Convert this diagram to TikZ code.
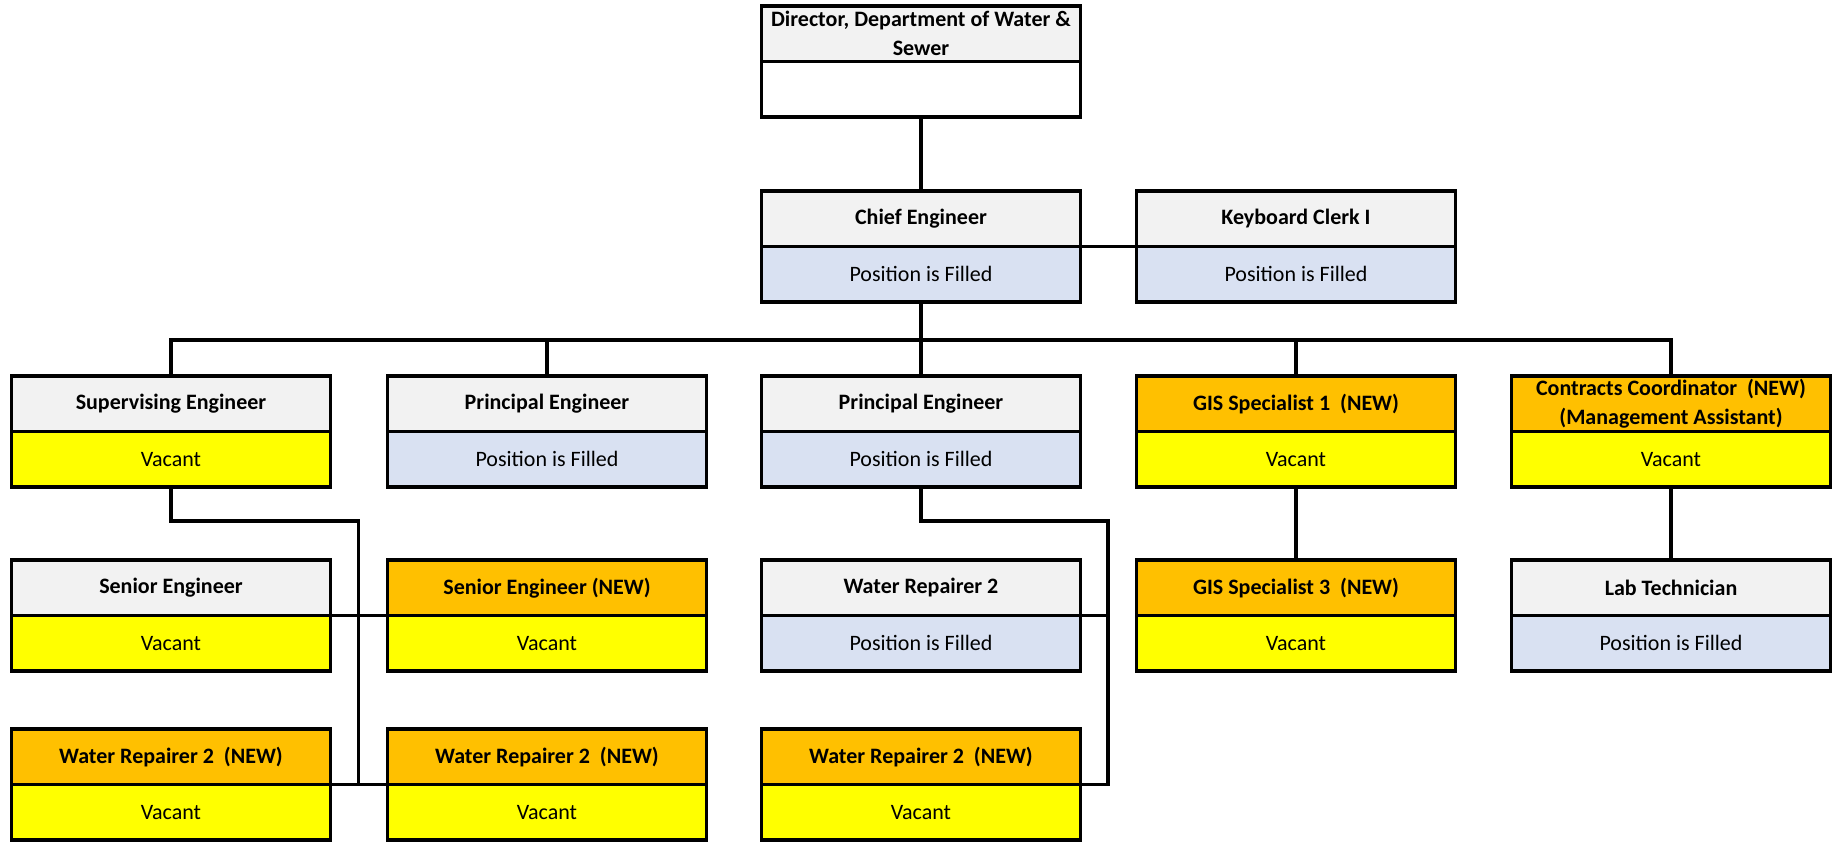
\documentclass[tikz,border=0pt]{standalone}
\usepackage{fontspec}
\setmainfont{Carlito}
\definecolor{hdrgray}{HTML}{F2F2F2}
\definecolor{filledblue}{HTML}{D9E1F2}
\definecolor{vacyellow}{HTML}{FFFF00}
\definecolor{neworange}{HTML}{FFC000}
\tikzset{
  boxbase/.style={draw=black, line width=3.8pt, minimum width=319pt, minimum height=55.5pt,
    inner sep=1pt, outer sep=0pt, align=center, font=\fontsize{22}{29}\selectfont},
  hdr/.style={boxbase, fill=hdrgray, font=\fontsize{22}{29}\selectfont\bfseries},
  hdrnew/.style={hdr, fill=neworange},
  stfilled/.style={boxbase, fill=filledblue},
  stvacant/.style={boxbase, fill=vacyellow},
  stblank/.style={boxbase, fill=white},
  link/.style={draw=black, line width=3.4pt},
}
% one position: header box on top of a status box
% #1 name, #2 x centre, #3 top y, #4 header style, #5 header text, #6 status style, #7 status text
\newcommand\orgpos[7]{%
  \node[#4, anchor=north] (#1H) at (#2,#3) {#5};
  \node[#6, anchor=north] (#1S) at (#1H.south) {#7};
}
\begin{document}
\begin{tikzpicture}[x=1pt,y=-1pt]
\useasboundingbox (0,0) rectangle (1837,841);

% column centres and row tops
\def\cA{171}\def\cB{547}\def\cC{921}\def\cD{1296}\def\cE{1671}
\def\rZ{6}\def\rA{191}\def\rB{376}\def\rC{560}\def\rD{729}

% junction points of the connectors
\coordinate (bus) at (921,340);
\coordinate (supJ) at (358.5,521);
\coordinate (prinJ) at (1108,521);

% boxes
\orgpos{dir}{\cC}{\rZ}{hdr}{Director, Department of Water \&\\Sewer}{stblank}{}
\orgpos{chief}{\cC}{\rA}{hdr}{Chief Engineer}{stfilled}{Position is Filled}
\orgpos{clerk}{\cD}{\rA}{hdr}{Keyboard Clerk I}{stfilled}{Position is Filled}

\orgpos{sup}{\cA}{\rB}{hdr}{Supervising Engineer}{stvacant}{Vacant}
\orgpos{prinA}{\cB}{\rB}{hdr}{Principal Engineer}{stfilled}{Position is Filled}
\orgpos{prinB}{\cC}{\rB}{hdr}{Principal Engineer}{stfilled}{Position is Filled}
\orgpos{gisA}{\cD}{\rB}{hdrnew}{GIS Specialist 1\ \ (NEW)}{stvacant}{Vacant}
\orgpos{con}{\cE}{\rB}{hdrnew}{Contracts Coordinator\ \ (NEW)\\(Management Assistant)}{stvacant}{Vacant}

\orgpos{sen}{\cA}{\rC}{hdr}{Senior Engineer}{stvacant}{Vacant}
\orgpos{senN}{\cB}{\rC}{hdrnew}{Senior Engineer (NEW)}{stvacant}{Vacant}
\orgpos{wr}{\cC}{\rC}{hdr}{Water Repairer 2}{stfilled}{Position is Filled}
\orgpos{gisB}{\cD}{\rC}{hdrnew}{GIS Specialist 3\ \ (NEW)}{stvacant}{Vacant}
\orgpos{lab}{\cE}{\rC}{hdr}{Lab Technician}{stfilled}{Position is Filled}

\orgpos{wrA}{\cA}{\rD}{hdrnew}{Water Repairer 2\ \ (NEW)}{stvacant}{Vacant}
\orgpos{wrB}{\cB}{\rD}{hdrnew}{Water Repairer 2\ \ (NEW)}{stvacant}{Vacant}
\orgpos{wrC}{\cC}{\rD}{hdrnew}{Water Repairer 2\ \ (NEW)}{stvacant}{Vacant}

% connectors
\draw[link] (dirS.south) -- (chiefH.north);
\draw[link] (chiefH.south east) -- (clerkH.south west);
\draw[link] (chiefS.south) -- (bus);
\draw[link] (supH.north) -- (supH.north |- bus) -- (conH.north |- bus) -- (conH.north);
\draw[link] (prinAH.north) -- (prinAH.north |- bus);
\draw[link] (prinBH.north) -- (prinBH.north |- bus);
\draw[link] (gisAH.north) -- (gisAH.north |- bus);

\draw[link] (supS.south) |- (supJ) |- (wrAH.south east);
\draw[link] (senH.south east) -- (senNH.south west);
\draw[link] (wrAH.south east) -- (wrBH.south west);

\draw[link] (prinBS.south) |- (prinJ) |- (wrCH.south east);
\draw[link] (wrH.south east) -- (wrH.south east -| prinJ);

\draw[link] (gisAS.south) -- (gisBH.north);
\draw[link] (conS.south) -- (labH.north);
\end{tikzpicture}
\end{document}
